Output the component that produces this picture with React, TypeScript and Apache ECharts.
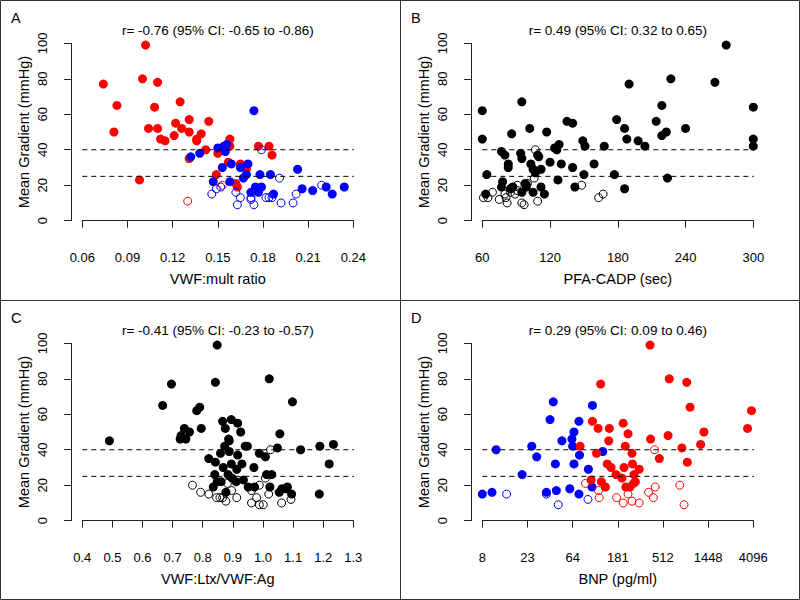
import React, { useEffect, useRef } from "react";
import * as echarts from "echarts";

const FONT = "'Liberation Sans', Arial, Helvetica, sans-serif";
const RED = "#ff0000";
const BLUE = "#0000ff";
const BLACK = "#000000";

// shared y axis
const gradientLabels = ["0", "20", "40", "60", "80", "100"];
const thresholds = [25, 40];

// ---------- Panel A: VWF:mult ratio ----------
const multLabels = ["0.06", "0.09", "0.12", "0.15", "0.18", "0.21", "0.24"];
const multRedFilled = [
  [0.074, 77], [0.081, 50], [0.083, 65], [0.098, 23], [0.1, 80], [0.102, 99], [0.104, 52],
  [0.108, 64], [0.11, 78], [0.11, 52], [0.112, 46], [0.115, 45], [0.121, 48], [0.122, 55],
  [0.125, 67], [0.126, 52], [0.131, 57], [0.131, 50], [0.131, 35], [0.136, 46], [0.136, 45],
  [0.139, 49], [0.142, 40], [0.144, 56], [0.149, 26], [0.15, 38], [0.157, 33], [0.158, 46],
  [0.158, 42], [0.162, 21], [0.163, 19], [0.165, 32], [0.169, 29], [0.177, 42], [0.184, 42],
  [0.186, 37],
];
const multRedOpen = [[0.13, 11], [0.153, 20]];
const multBlueFilled = [
  [0.132, 36], [0.138, 38], [0.15, 41], [0.154, 42], [0.156, 43], [0.155, 39], [0.153, 30],
  [0.159, 32], [0.165, 30], [0.17, 32], [0.169, 26], [0.167, 24], [0.147, 22], [0.158, 22],
  [0.174, 62], [0.178, 26], [0.185, 26], [0.203, 29], [0.175, 19], [0.179, 19], [0.177, 16],
  [0.172, 16], [0.187, 15], [0.206, 18], [0.213, 17], [0.222, 19], [0.226, 15], [0.234, 19],
];
const multBlueOpen = [
  [0.146, 15], [0.149, 18], [0.152, 19], [0.162, 16], [0.163, 9], [0.165, 13], [0.172, 13],
  [0.172, 12], [0.174, 9], [0.179, 40], [0.182, 13], [0.184, 13], [0.186, 13], [0.191, 24],
  [0.192, 10], [0.2, 10], [0.202, 15], [0.219, 20],
];

// ---------- Panel B: PFA-CADP ----------
const pfaLabels = ["60", "120", "180", "240", "300"];
const pfaFilled = [
  [60, 62], [60, 46], [64, 26], [63, 15], [77, 39], [80, 37], [83, 32], [83, 30], [86, 49],
  [78, 22], [77, 19], [85, 18], [87, 19], [95, 67], [94, 38], [95, 35], [95, 16], [98, 21],
  [99, 20], [99, 19], [102, 52], [103, 32], [105, 29], [105, 16], [107, 27], [109, 37],
  [110, 36], [117, 50], [112, 29], [112, 19], [115, 15], [120, 33], [124, 41], [126, 40],
  [128, 43], [127, 23], [130, 32], [135, 56], [140, 55], [140, 30], [142, 19], [149, 45],
  [151, 42], [150, 26], [159, 32], [168, 42], [179, 57], [177, 26], [186, 52], [188, 46],
  [186, 18], [190, 77], [198, 45], [204, 42], [214, 56], [219, 48], [219, 65], [223, 50],
  [224, 24], [227, 80], [240, 52], [266, 78], [276, 99], [300, 64], [300, 46], [300, 42],
];
const pfaOpen = [
  [61, 13], [65, 13], [69, 16], [75, 12], [80, 15], [81, 13], [82, 10], [85, 16], [89, 15],
  [91, 20], [91, 17], [95, 10], [97, 9], [100, 21], [106, 24], [107, 40], [109, 11],
  [148, 20], [163, 13], [167, 15],
];

// ---------- Panel C: VWF:Ltx/VWF:Ag ----------
const ltxLabels = ["0.4", "0.5", "0.6", "0.7", "0.8", "0.9", "1.0", "1.1", "1.2", "1.3"];
const ltxFilled = [
  [0.49, 45], [0.667, 65], [0.696, 77], [0.728, 48], [0.725, 46], [0.739, 52], [0.744, 46],
  [0.756, 50], [0.78, 62], [0.79, 64], [0.795, 52], [0.82, 35], [0.842, 78], [0.848, 99],
  [0.842, 33], [0.84, 26], [0.835, 19], [0.848, 22], [0.861, 22], [0.866, 56], [0.875, 52],
  [0.873, 42], [0.859, 38], [0.868, 30], [0.877, 16], [0.884, 26], [0.886, 46], [0.888, 45],
  [0.888, 39], [0.895, 57], [0.916, 55], [0.895, 32], [0.897, 24], [0.911, 22], [0.913, 29],
  [0.916, 37], [0.926, 50], [0.93, 32], [0.935, 23], [0.941, 42], [0.948, 42], [0.951, 19],
  [0.97, 30], [0.972, 19], [0.988, 38], [1.008, 36], [1.021, 80], [1.012, 26], [1.029, 26],
  [1.023, 19], [1.048, 41], [1.056, 49], [1.054, 16], [1.063, 18], [1.076, 18], [1.081, 19],
  [1.095, 15], [1.098, 67], [1.125, 40], [1.187, 15], [1.189, 42], [1.22, 32], [1.234, 43],
];
const ltxOpen = [
  [0.766, 20], [0.793, 16], [0.82, 15], [0.846, 13], [0.857, 13], [0.866, 13], [0.877, 11],
  [0.882, 21], [0.896, 17], [0.913, 13], [0.962, 10], [0.962, 17], [0.979, 13], [0.988, 20],
  [0.988, 9], [1.001, 9], [1.008, 24], [1.019, 15], [1.025, 40], [1.062, 10], [1.093, 12],
];

// ---------- Panel D: BNP (pg/ml), log2 axis ----------
const bnpLabels = ["8", "23", "64", "181", "512", "1448", "4096"];
const bnpBlueFilled = [
  [8, 15], [10, 16], [11, 40], [20, 26], [25, 42], [28, 36], [35, 16], [38, 57], [41, 67],
  [43, 32], [44, 17], [50, 45], [60, 18], [63, 46], [64, 42], [66, 50], [66, 32], [74, 56],
  [75, 37], [74, 15], [92, 29], [101, 65], [100, 19], [128, 39],
];
const bnpBlueOpen = [[14, 15], [35, 15], [46, 9], [91, 12]];
const bnpRedFilled = [
  [76, 42], [98, 23], [101, 56], [111, 38], [115, 52], [122, 77], [124, 22], [136, 19],
  [142, 32], [147, 45], [149, 52], [155, 30], [174, 26], [199, 24], [205, 55], [209, 30],
  [215, 42], [218, 19], [229, 49], [239, 19], [251, 38], [254, 32], [260, 21], [263, 26],
  [271, 22], [296, 29], [385, 46], [380, 99], [471, 35], [576, 48], [592, 80], [792, 41],
  [885, 78], [897, 33], [955, 64], [1218, 43], [1314, 50], [3590, 52], [3929, 62],
];
const bnpRedOpen = [
  [86, 21], [116, 17], [118, 13], [176, 13], [205, 10], [229, 15], [251, 11], [296, 10],
  [367, 16], [410, 13], [428, 19], [422, 40], [755, 20], [832, 9],
];

type Group = { data: number[][]; color: string; filled: boolean };
type Panel = {
  ox: number; oy: number; letter: string; title: string; xName: string;
  labels: string[]; tx: (v: number) => number; groups: Group[];
};

const ident = (v: number) => v;

const panels: Panel[] = [
  {
    ox: 0, oy: 0, letter: "A", title: "r= -0.76 (95% CI: -0.65 to -0.86)", xName: "VWF:mult ratio",
    labels: multLabels, tx: ident,
    groups: [
      { data: multRedFilled, color: RED, filled: true },
      { data: multRedOpen, color: RED, filled: false },
      { data: multBlueFilled, color: BLUE, filled: true },
      { data: multBlueOpen, color: BLUE, filled: false },
    ],
  },
  {
    ox: 400, oy: 0, letter: "B", title: "r= 0.49 (95% CI: 0.32 to 0.65)", xName: "PFA-CADP (sec)",
    labels: pfaLabels, tx: ident,
    groups: [
      { data: pfaFilled, color: BLACK, filled: true },
      { data: pfaOpen, color: BLACK, filled: false },
    ],
  },
  {
    ox: 0, oy: 300, letter: "C", title: "r= -0.41 (95% CI: -0.23 to -0.57)", xName: "VWF:Ltx/VWF:Ag",
    labels: ltxLabels, tx: ident,
    groups: [
      { data: ltxFilled, color: BLACK, filled: true },
      { data: ltxOpen, color: BLACK, filled: false },
    ],
  },
  {
    ox: 400, oy: 300, letter: "D", title: "r= 0.29 (95% CI: 0.09 to 0.46)", xName: "BNP (pg/ml)",
    labels: bnpLabels, tx: (v: number) => Math.log2(v),
    groups: [
      { data: bnpBlueFilled, color: BLUE, filled: true },
      { data: bnpBlueOpen, color: BLUE, filled: false },
      { data: bnpRedFilled, color: RED, filled: true },
      { data: bnpRedOpen, color: RED, filled: false },
    ],
  },
];

const GRID_L = 82.3;
const GRID_T = 43.3;
const GRID_W = 271;
const GRID_H = 177.4;
const AXIS_COLOR = "#222";

function buildOption() {
  const grid: any[] = [];
  const xAxis: any[] = [];
  const yAxis: any[] = [];
  const series: any[] = [];
  const graphic: any[] = [];

  const yMin = parseFloat(gradientLabels[0]);
  const yMax = parseFloat(gradientLabels[gradientLabels.length - 1]);
  const yInt = (yMax - yMin) / (gradientLabels.length - 1);

  panels.forEach((p, i) => {
    grid.push({ left: p.ox + GRID_L, top: p.oy + GRID_T, width: GRID_W, height: GRID_H });
    const xmin = p.tx(parseFloat(p.labels[0]));
    const xmax = p.tx(parseFloat(p.labels[p.labels.length - 1]));
    const xint = (xmax - xmin) / (p.labels.length - 1);
    xAxis.push({
      gridIndex: i, type: "value", min: xmin, max: xmax, interval: xint, offset: 7.6,
      axisLine: { show: true, lineStyle: { color: AXIS_COLOR, width: 1 } },
      axisTick: { show: true, length: 7, lineStyle: { color: AXIS_COLOR, width: 1 } },
      splitLine: { show: false },
      axisLabel: {
        margin: 23, fontSize: 13, color: BLACK, fontFamily: FONT, showMinLabel: true, showMaxLabel: true,
        formatter: (v: number) => p.labels[Math.round((v - xmin) / xint)] ?? "",
      },
      name: p.xName, nameLocation: "middle", nameGap: 43,
      nameTextStyle: { fontSize: 14.5, color: BLACK, fontFamily: FONT },
    });
    yAxis.push({
      gridIndex: i, type: "value", min: yMin, max: yMax, interval: yInt, offset: 11.3,
      axisLine: { show: true, lineStyle: { color: AXIS_COLOR, width: 1 } },
      axisTick: { show: true, length: 7, lineStyle: { color: AXIS_COLOR, width: 1 } },
      splitLine: { show: false },
      axisLabel: {
        margin: 22, fontSize: 13, color: BLACK, fontFamily: FONT, rotate: 90,
        formatter: (v: number) => gradientLabels[Math.round((v - yMin) / yInt)] ?? "",
      },
      name: "Mean Gradient (mmHg)", nameLocation: "middle", nameGap: 40,
      nameTextStyle: { fontSize: 14.5, color: BLACK, fontFamily: FONT },
    });

    thresholds.forEach((t) => {
      series.push({
        type: "line", xAxisIndex: i, yAxisIndex: i, symbol: "none", silent: true, clip: false,
        data: [[xmin, t], [xmax + 0.018 * (xmax - xmin), t]],
        lineStyle: { color: BLACK, width: 1, type: [5, 4], opacity: 1 },
      });
    });

    p.groups.forEach((g) => {
      series.push({
        type: "scatter", xAxisIndex: i, yAxisIndex: i, silent: true, clip: false,
        symbol: "circle", symbolSize: g.filled ? 9 : 8,
        data: g.data.map(([x, y]) => [p.tx(x), y]),
        itemStyle: g.filled
          ? { color: g.color, borderWidth: 0, opacity: 1 }
          : { color: "rgba(0,0,0,0)", borderColor: g.color, borderWidth: 1, opacity: 1 },
      });
    });

    graphic.push({
      type: "text", x: p.ox + 11, y: p.oy + 10,
      style: { text: p.letter, fontSize: 14.5, fontFamily: FONT, fill: BLACK, align: "left", verticalAlign: "top" },
    });
    graphic.push({
      type: "text", x: p.ox + GRID_L + GRID_W / 2, y: p.oy + 23,
      style: { text: p.title, fontSize: 13.5, fontFamily: FONT, fill: BLACK, align: "center", verticalAlign: "top" },
    });
  });

  graphic.push({ type: "rect", shape: { x: 0.5, y: 0.5, width: 799, height: 599 }, style: { fill: "none", stroke: "#333", lineWidth: 1 } });
  graphic.push({ type: "line", shape: { x1: 400.5, y1: 0, x2: 400.5, y2: 600 }, style: { stroke: "#333", lineWidth: 1 } });
  graphic.push({ type: "line", shape: { x1: 0, y1: 300.5, x2: 800, y2: 300.5 }, style: { stroke: "#333", lineWidth: 1 } });

  return {
    animation: false,
    backgroundColor: "#ffffff",
    textStyle: { fontFamily: FONT },
    grid, xAxis, yAxis, series, graphic,
  };
}

export default function App() {
  const ref = useRef<HTMLDivElement>(null);
  useEffect(() => {
    document.body.style.margin = "0";
    if (!ref.current) return;
    const chart = echarts.init(ref.current, null, { renderer: "svg" });
    chart.setOption(buildOption() as any);
    return () => chart.dispose();
  }, []);
  return <div ref={ref} style={{ width: 800, height: 600 }} />;
}
